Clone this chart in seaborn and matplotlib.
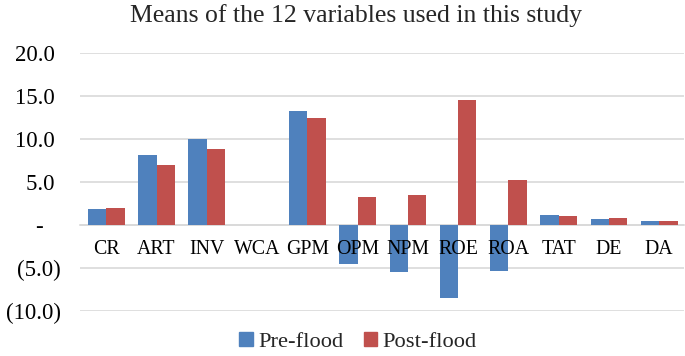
import matplotlib
matplotlib.use("Agg")
import matplotlib.pyplot as plt
import seaborn as sns
import pandas as pd
from matplotlib.ticker import FuncFormatter

categories = ["CR", "ART", "INV", "WCA", "GPM", "OPM", "NPM", "ROE", "ROA", "TAT", "DE", "DA"]
pre_flood = [1.9, 8.1, 10.0, 0.0, 13.3, -4.5, -5.5, -8.5, -5.3, 1.15, 0.7, 0.47]
post_flood = [2.0, 7.0, 8.8, 0.0, 12.4, 3.3, 3.5, 14.5, 5.2, 1.08, 0.8, 0.45]
series = ["Pre-flood", "Post-flood"]
colors = ["#4F81BD", "#C0504D"]
yticks = [-10, -5, 0, 5, 10, 15, 20]

df = pd.DataFrame({
    "var": categories * 2,
    "value": pre_flood + post_flood,
    "period": [series[0]] * len(categories) + [series[1]] * len(categories),
})

sns.set_style("white")
plt.rcParams["font.family"] = ["Liberation Serif", "DejaVu Serif"]

fig = plt.figure(figsize=(6.85, 3.56), dpi=100)
ax = fig.add_axes([0.117, 0.126, 0.882, 0.725])

sns.barplot(data=df, x="var", y="value", hue="period", palette=colors,
            saturation=1, width=0.73, ax=ax, linewidth=0, errorbar=None,
            zorder=2)

ax.set_ylim(-10, 20)
ax.set_xlim(-0.52, len(categories) - 0.5)
ax.set_yticks(yticks)

def fmt(v, pos):
    if abs(v) < 1e-9:
        return "-   "
    if v < 0:
        return f"({abs(v):.1f})"
    return f"{v:.1f} "

ax.yaxis.set_major_formatter(FuncFormatter(fmt))
ax.yaxis.grid(True, color="#D9D9D9", linewidth=1.2, zorder=0)
ax.set_axisbelow(True)
ax.xaxis.set_zorder(5)
for s in ["top", "right", "left"]:
    ax.spines[s].set_visible(False)
ax.spines["bottom"].set_position(("data", 0))
ax.spines["bottom"].set_color("#D9D9D9")
ax.spines["bottom"].set_linewidth(1.2)
ax.spines["bottom"].set_zorder(1)
ax.tick_params(axis="both", length=0, colors="black")
ax.tick_params(axis="y", pad=14, labelsize=16.5)
ax.tick_params(axis="x", pad=11, labelsize=14.3)
ax.set_xlabel("")
ax.set_ylabel("")

fig.text(356 / 685, 1 - 16 / 356, "Means of the 12 variables used in this study",
         fontsize=18.5, ha="center", va="center")

ax.get_legend().remove()
handles = [plt.Rectangle((0, 0), 1, 1, color=c) for c in colors]
fig.legend(handles, series, loc="center", bbox_to_anchor=(358 / 685, 1 - 342 / 356),
           ncol=2, frameon=False, fontsize=16.2, handlelength=0.6, handleheight=0.6,
           handletextpad=0.25, columnspacing=0.9)

fig.savefig("out.png", dpi=100)
